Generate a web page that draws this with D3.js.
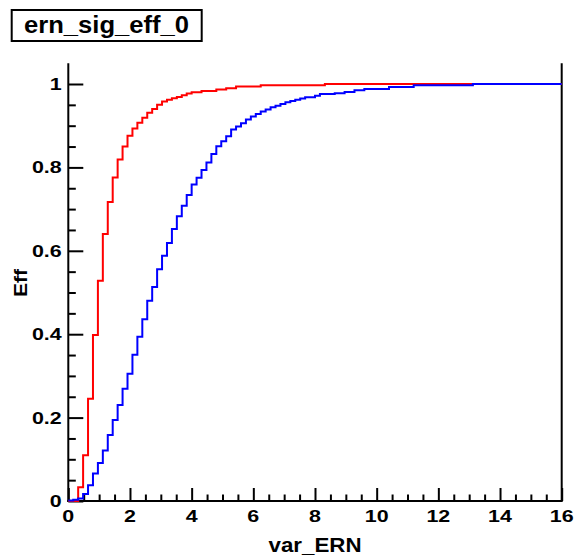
<!DOCTYPE html>
<html><head><meta charset="utf-8">
<script src="https://cdn.jsdelivr.net/npm/d3@7"></script>
<style>body{margin:0;background:#fff}svg{display:block}</style>
</head><body><svg id="c" width="583" height="555"></svg>
<script>
const title = "ern_sig_eff_0";
const xLabel = "var_ERN";
const yLabel = "Eff";
const xRange = [0, 16];
const yRange = [0, 1.05];
const nBins = 100;
const xMajorTicks = [0, 2, 4, 6, 8, 10, 12, 14, 16];
const xTickLabels = ["0", "2", "4", "6", "8", "10", "12", "14", "16"];
const yMajorTicks = [0, 0.2, 0.4, 0.6, 0.8, 1];
const yTickLabels = ["0", "0.2", "0.4", "0.6", "0.8", "1"];

const redEff = [
  0, 0, 0.033, 0.110, 0.245, 0.398, 0.528, 0.640, 0.717, 0.776,
  0.819, 0.850, 0.876, 0.893, 0.907, 0.919, 0.931, 0.940, 0.950, 0.958,
  0.962, 0.966, 0.969, 0.973, 0.977, 0.980, 0.980, 0.983, 0.983, 0.983,
  0.987, 0.987, 0.990, 0.990, 0.994, 0.994, 0.994, 0.994, 0.994, 0.997,
  0.997, 0.997, 0.997, 0.997, 0.997, 0.997, 0.997, 0.997, 0.997, 0.997,
  0.997, 0.997, 1, 1, 1, 1, 1, 1, 1, 1,
  1, 1, 1, 1, 1, 1, 1, 1, 1, 1,
  1, 1, 1, 1, 1, 1, 1, 1, 1, 1,
  1, 1, 1, 1, 1, 1, 1, 1, 1, 1,
  1, 1, 1, 1, 1, 1, 1, 1, 1, 1
];
const blueEff = [
  0.001, 0.003, 0.006, 0.017, 0.038, 0.066, 0.091, 0.121, 0.158, 0.194,
  0.230, 0.269, 0.305, 0.351, 0.394, 0.436, 0.480, 0.513, 0.556, 0.588,
  0.619, 0.652, 0.683, 0.708, 0.734, 0.759, 0.775, 0.794, 0.812, 0.832,
  0.851, 0.863, 0.875, 0.891, 0.898, 0.906, 0.915, 0.922, 0.928, 0.934,
  0.939, 0.944, 0.948, 0.952, 0.956, 0.959, 0.962, 0.965, 0.968, 0.968,
  0.972, 0.976, 0.976, 0.976, 0.978, 0.978, 0.981, 0.981, 0.985, 0.985,
  0.988, 0.988, 0.988, 0.988, 0.988, 0.993, 0.993, 0.993, 0.993, 0.993,
  0.997, 0.997, 0.997, 0.997, 0.997, 0.997, 0.997, 0.997, 0.997, 0.997,
  0.997, 0.997, 1, 1, 1, 1, 1, 1, 1, 1,
  1, 1, 1, 1, 1, 1, 1, 1, 1, 1
];

const FONT = "'Liberation Sans', Arial, Helvetica, sans-serif";
const svg = d3.select("#c");
svg.append("rect").attr("width", 583).attr("height", 555).attr("fill", "#fff");

const L = 68.3, R = 561.7, B = 501, T = 63.15;
const x = d3.scaleLinear().domain(xRange).range([L, R]);
const y = d3.scaleLinear().domain(yRange).range([B, T]);

// minor ticks
const xMinor = d3.range(xRange[0], xRange[1] + 1e-9, 0.5).filter(v => !xMajorTicks.includes(v));
const yMinor = d3.range(0, 1.0001, 0.05).filter(v => !yMajorTicks.some(m => Math.abs(m - v) < 1e-6));

const axW = 2;
const gxMinor = svg.append("g").attr("transform", `translate(0,${B})`)
  .call(d3.axisBottom(x).tickValues(xMinor).tickSize(-6.5).tickFormat(""));
const gxMajor = svg.append("g").attr("transform", `translate(0,${B})`)
  .call(d3.axisBottom(x).tickValues(xMajorTicks).tickSize(-13).tickFormat(""));
const gyMinor = svg.append("g").attr("transform", `translate(${L},0)`)
  .call(d3.axisLeft(y).tickValues(yMinor).tickSize(-7.5).tickFormat(""));
const gyMajor = svg.append("g").attr("transform", `translate(${L},0)`)
  .call(d3.axisLeft(y).tickValues(yMajorTicks).tickSize(-15).tickFormat(""));
[gxMinor, gxMajor, gyMinor, gyMajor].forEach(g => {
  g.selectAll("path.domain").remove();
  g.selectAll("line").attr("stroke", "#000").attr("stroke-width", axW);
});

// axis lines / frame
svg.append("line").attr("x1", L).attr("x2", L).attr("y1", T).attr("y2", B + 1).attr("stroke", "#000").attr("stroke-width", axW);
svg.append("line").attr("x1", L - 1).attr("x2", R + 1).attr("y1", B).attr("y2", B).attr("stroke", "#000").attr("stroke-width", axW);
svg.append("line").attr("x1", R).attr("x2", R).attr("y1", T).attr("y2", B).attr("stroke", "#000").attr("stroke-width", axW);

// tick labels
const sx = 1.3, tfs = 16.5;
svg.append("g").selectAll("text").data(xMajorTicks).join("text")
  .attr("transform", d => `translate(${x(d)},521.7) scale(${sx},1)`)
  .attr("text-anchor", "middle").attr("font-family", FONT).attr("font-weight", "bold")
  .attr("font-size", tfs).attr("fill", "#000")
  .text((d, i) => xTickLabels[i]);
svg.append("g").selectAll("text").data(yMajorTicks).join("text")
  .attr("transform", d => `translate(61.7,${y(d) + 5.9}) scale(${sx},1)`)
  .attr("text-anchor", "end").attr("font-family", FONT).attr("font-weight", "bold")
  .attr("font-size", tfs).attr("fill", "#000")
  .text((d, i) => yTickLabels[i]);

// axis titles
svg.append("text").attr("x", 315).attr("y", 552).attr("text-anchor", "middle")
  .attr("font-family", FONT).attr("font-weight", "bold").attr("font-size", 20)
  .attr("textLength", 93).attr("lengthAdjust", "spacingAndGlyphs").text(xLabel);
svg.append("text").attr("transform", "translate(26.5,283) rotate(-90)").attr("text-anchor", "middle")
  .attr("font-family", FONT).attr("font-weight", "bold").attr("font-size", 19)
  .attr("textLength", 28).attr("lengthAdjust", "spacingAndGlyphs").text(yLabel);

// histograms
const bw = (xRange[1] - xRange[0]) / nBins;
const line = d3.line().x(d => x(d[0])).y(d => y(d[1])).curve(d3.curveStepAfter);
function pts(vals) {
  const p = vals.map((v, i) => [xRange[0] + i * bw, v]);
  p.push([xRange[1], vals[vals.length - 1]]);
  return p;
}
svg.append("path").attr("d", line(pts(redEff))).attr("fill", "none").attr("stroke", "#ff0000").attr("stroke-width", 2);
svg.append("path").attr("d", line(pts(blueEff))).attr("fill", "none").attr("stroke", "#0000ff").attr("stroke-width", 2);

// title box
svg.append("rect").attr("x", 11.7).attr("y", 10).attr("width", 190).attr("height", 31)
  .attr("fill", "#fff").attr("stroke", "#000").attr("stroke-width", 2);
svg.append("text").attr("x", 106.5).attr("y", 33.3).attr("text-anchor", "middle")
  .attr("font-family", FONT).attr("font-weight", "bold").attr("font-size", 24)
  .attr("textLength", 165).attr("lengthAdjust", "spacingAndGlyphs").text(title);
</script></body></html>
